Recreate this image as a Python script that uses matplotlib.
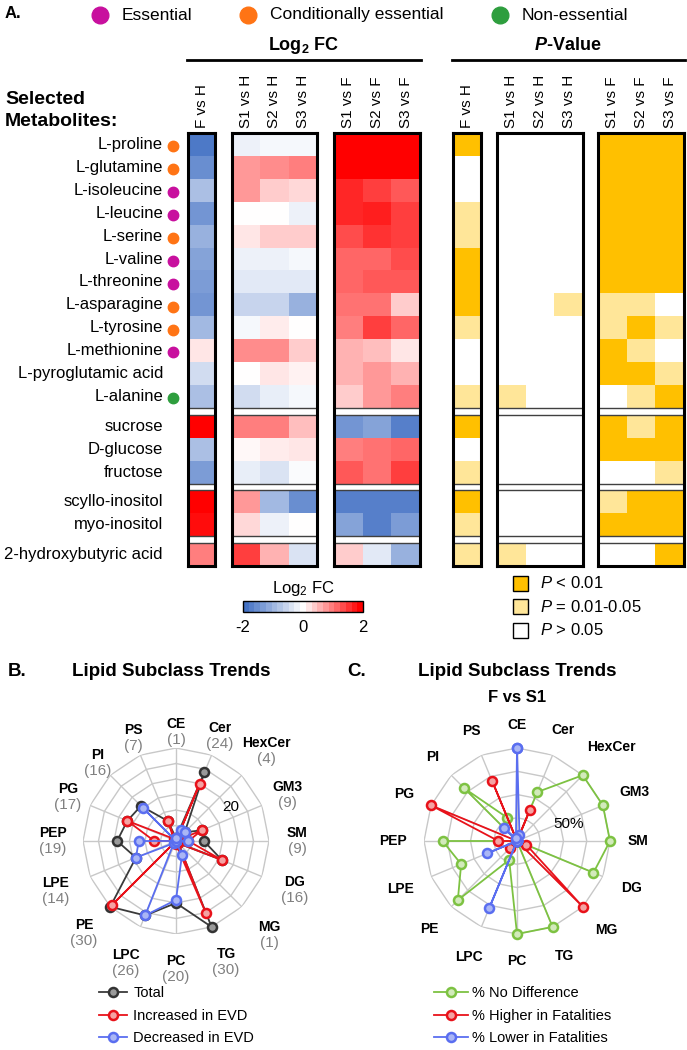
import numpy as np
import matplotlib
matplotlib.use("Agg")
import matplotlib.pyplot as plt
from matplotlib.colors import LinearSegmentedColormap, ListedColormap, Normalize, BoundaryNorm
from matplotlib.lines import Line2D
from matplotlib.patches import Rectangle
from matplotlib.transforms import blended_transform_factory
from matplotlib.cm import ScalarMappable

plt.rcParams['font.family'] = ['Liberation Sans', 'DejaVu Sans']
plt.rcParams['axes.unicode_minus'] = False
plt.rcParams['mathtext.fontset'] = 'custom'
plt.rcParams['mathtext.rm'] = 'Liberation Sans'
plt.rcParams['mathtext.it'] = 'Liberation Sans:italic'
plt.rcParams['mathtext.bf'] = 'Liberation Sans:bold'
try:
    plt.rcParams['mathtext.bfit'] = 'Liberation Sans:italic:bold'
except KeyError:
    pass

# ---------------- data: panel A ----------------
metabolites = ["L-proline", "L-glutamine", "L-isoleucine", "L-leucine", "L-serine",
               "L-valine", "L-threonine", "L-asparagine", "L-tyrosine", "L-methionine",
               "L-pyroglutamic acid", "L-alanine",
               "sucrose", "D-glucose", "fructose",
               "scyllo-inositol", "myo-inositol",
               "2-hydroxybutyric acid"]
group_sizes = [12, 3, 2, 1]
# E = essential, C = conditionally essential, N = non-essential
amino_class = ["C", "C", "E", "E", "C", "E", "E", "C", "C", "E", "", "N",
               "", "", "", "", "", ""]
class_names = ["Essential", "Conditionally essential", "Non-essential"]

cols_fh = ["F vs H"]
cols_sh = ["S1 vs H", "S2 vs H", "S3 vs H"]
cols_sf = ["S1 vs F", "S2 vs F", "S3 vs F"]

fc_f_vs_h = [-1.9, -1.6, -0.9, -1.5, -1.1, -1.3, -1.4, -1.5, -1.0, 0.2, -0.5, -0.9,
             2.0, -0.9, -1.4, 2.0, 1.9, 1.0]
fc_s_vs_h = [[-0.2, -0.1, -0.1],
             [0.8, 0.9, 1.0],
             [0.8, 0.4, 0.3],
             [0.0, 0.0, -0.2],
             [0.2, 0.4, 0.4],
             [-0.2, -0.2, -0.1],
             [-0.3, -0.3, -0.3],
             [-0.6, -0.6, -1.1],
             [-0.1, 0.15, 0.0],
             [0.9, 0.9, 0.4],
             [0.0, 0.2, 0.1],
             [-0.5, -0.25, -0.1],
             [1.0, 1.0, 0.5],
             [0.05, 0.15, 0.2],
             [-0.25, -0.4, -0.05],
             [0.8, -1.0, -1.6],
             [0.3, -0.2, 0.0],
             [1.5, 0.6, -0.4]]
fc_s_vs_f = [[2.0, 2.0, 2.0],
             [2.0, 2.0, 2.0],
             [1.7, 1.5, 1.3],
             [1.7, 1.75, 1.5],
             [1.4, 1.6, 1.5],
             [1.2, 1.2, 1.4],
             [1.2, 1.3, 1.3],
             [1.1, 1.1, 0.4],
             [1.0, 1.5, 1.2],
             [0.6, 0.5, 0.2],
             [0.6, 0.8, 0.6],
             [0.4, 0.8, 1.0],
             [-1.5, -1.3, -1.8],
             [1.0, 1.1, 1.2],
             [1.3, 1.1, 1.5],
             [-1.8, -1.8, -1.8],
             [-1.3, -1.8, -1.4],
             [0.4, -0.3, -1.1]]
# P-value class: 0 = P > 0.05, 1 = P 0.01-0.05, 2 = P < 0.01
p_f_vs_h = [2, 0, 0, 1, 1, 2, 2, 2, 1, 0, 0, 1, 2, 0, 1, 2, 1, 1]
p_s_vs_h = [[0, 0, 0]] * 7 + [[0, 0, 1], [0, 0, 0], [0, 0, 0], [0, 0, 0], [1, 0, 0],
                              [0, 0, 0], [0, 0, 0], [0, 0, 0], [0, 0, 0], [0, 0, 0], [1, 0, 0]]
p_s_vs_f = [[2, 2, 2]] * 7 + [[1, 1, 0], [1, 2, 1], [2, 1, 0], [2, 2, 1], [0, 1, 2],
                              [2, 1, 2], [2, 2, 2], [0, 0, 1], [1, 2, 2], [2, 2, 2], [0, 0, 2]]
p_labels = ["$P$ < 0.01", "$P$ = 0.01-0.05", "$P$ > 0.05"]

# ---------------- data: panels B and C ----------------
lipid_classes = ["CE", "Cer", "HexCer", "GM3", "SM", "DG", "MG", "TG",
                 "PC", "LPC", "PE", "LPE", "PEP", "PG", "PI", "PS"]
lipid_totals = [1, 24, 4, 9, 9, 16, 1, 30, 20, 26, 30, 14, 19, 17, 16, 7]
b_increased = [0, 20, 0, 9, 4, 16, 1, 25, 1, 0, 29, 0, 7, 17, 1, 7]
b_decreased = [1, 4, 4, 0, 4, 0, 0, 5, 19, 26, 1, 14, 12, 0, 15, 0]
c_no_diff = [0, 57, 100, 100, 100, 89, 0, 100, 100, 22, 90, 65, 80, 0, 80, 27]
c_higher = [0, 36, 0, 0, 0, 11, 100, 0, 0, 0, 10, 0, 20, 100, 0, 70]
c_lower = [100, 7, 0, 0, 0, 0, 0, 0, 0, 78, 0, 35, 0, 0, 20, 3]

# label distance from the radar centre (pixels), per spoke
b_label_px = [109, 114, 128, 121, 121, 128, 132, 131, 128, 132, 130, 130, 123, 117, 111, 112]
c_label_px = [116, 120, 133, 127, 121, 124, 126, 125, 120, 126, 124, 126, 124, 122, 119, 119]

# ---------------- figure ----------------
W, H = 687, 1050
fig = plt.figure(figsize=(W / 100, H / 100), dpi=100)


def px_axes(x0, y0, x1, y1, **kw):
    return fig.add_axes([x0 / W, 1 - y1 / H, (x1 - x0) / W, (y1 - y0) / H], **kw)


def fx(x):
    return x / W


def fy(y):
    return 1 - y / H


fc_cmap = LinearSegmentedColormap.from_list("fc", ["#4472c4", "#ffffff", "#ff0000"])
fc_norm = Normalize(-2, 2)
p_cmap = ListedColormap(["#ffffff", "#ffe699", "#ffc000"])
p_norm = BoundaryNorm([-0.5, 0.5, 1.5, 2.5], 3)
class_colors = {"E": "#c8109e", "C": "#ff7415", "N": "#2e9e3e"}

# row layout with gaps between metabolite groups
gap = 0.3
heights, is_gap = [], []
for gi, g in enumerate(group_sizes):
    heights += [1] * g
    is_gap += [False] * g
    if gi < len(group_sizes) - 1:
        heights.append(gap)
        is_gap.append(True)
y_edges = np.concatenate([[0], np.cumsum(heights)])
data_rows = [i for i, gp in enumerate(is_gap) if not gp]
row_centers = [(y_edges[i] + y_edges[i + 1]) / 2 for i in data_rows]

top, bottom = 133, 566


def heat_block(x0, x1, values, cols, cmap, norm):
    ax = px_axes(x0, top, x1, bottom)
    arr = np.array(values, float)
    if arr.ndim == 1:
        arr = arr.reshape(-1, 1)
    full = np.full((len(heights), arr.shape[1]), np.nan)
    full[data_rows] = arr
    ax.pcolormesh(np.arange(arr.shape[1] + 1), y_edges, np.ma.masked_invalid(full),
                  cmap=cmap, norm=norm, shading='flat', antialiased=False)
    ax.set_xlim(0, arr.shape[1])
    ax.set_ylim(y_edges[-1], 0)
    for i, gp in enumerate(is_gap):
        if gp:
            ax.axhline(y_edges[i], color='#404040', lw=1)
            ax.axhline(y_edges[i + 1], color='#404040', lw=1)
    ax.set_xticks([])
    ax.set_yticks([])
    for s in ax.spines.values():
        s.set_linewidth(2.2)
    for j, c in enumerate(cols):
        ax.text(j + 0.5, 1.012, c, transform=ax.get_xaxis_transform(), rotation=90,
                ha='center', va='bottom', fontsize=11)
    return ax


ax_fh = heat_block(188, 215, fc_f_vs_h, cols_fh, fc_cmap, fc_norm)
heat_block(232, 317, fc_s_vs_h, cols_sh, fc_cmap, fc_norm)
heat_block(334, 420, fc_s_vs_f, cols_sf, fc_cmap, fc_norm)
heat_block(453, 481, p_f_vs_h, cols_fh, p_cmap, p_norm)
heat_block(497, 583, p_s_vs_h, cols_sh, p_cmap, p_norm)
heat_block(598, 684, p_s_vs_f, cols_sf, p_cmap, p_norm)

# metabolite names and class dots
tr = blended_transform_factory(fig.transFigure, ax_fh.transData)
for name, cls, yc in zip(metabolites, amino_class, row_centers):
    ax_fh.text(fx(163), yc, name, transform=tr, ha='right', va='center', fontsize=12)
    if cls:
        ax_fh.plot([fx(173)], [yc + 0.08], 'o', transform=tr, clip_on=False,
                   ms=7.5, color=class_colors[cls])

# headers
fig.text(fx(5), fy(14), "A.", fontsize=12, fontweight='bold', va='center')
for cx, cls in zip([100, 248, 500], ["E", "C", "N"]):
    fig.add_artist(Line2D([fx(cx)], [fy(15)], marker='o', ms=12, color=class_colors[cls],
                          transform=fig.transFigure))
for x, name in zip([122, 270, 522], class_names):
    fig.text(fx(x), fy(15), name, fontsize=12.5, va='center')

fig.text(fx(5), fy(100), "Selected", fontsize=14, fontweight='bold', va='center')
fig.text(fx(5), fy(121), "Metabolites:", fontsize=14, fontweight='bold', va='center')

fig.text(fx(304), fy(45), r"Log$_\mathbf{2}$ FC", fontsize=13, fontweight='bold',
         ha='center', va='center')
fig.text(fx(568), fy(45), r"$\mathbfit{P}$-Value", fontsize=13, fontweight='bold',
         ha='center', va='center')
fig.add_artist(Line2D([fx(187), fx(421)], [fy(60)] * 2, color='black', lw=2,
                      transform=fig.transFigure))
fig.add_artist(Line2D([fx(452), fx(685)], [fy(60)] * 2, color='black', lw=2,
                      transform=fig.transFigure))

# colorbar
cax = px_axes(243, 601, 363, 612)
sm = ScalarMappable(norm=fc_norm, cmap=ListedColormap(fc_cmap(np.linspace(0, 1, 21))))
cb = fig.colorbar(sm, cax=cax, orientation='horizontal', ticks=[-2, 0, 2])
cb.ax.tick_params(length=0, labelsize=12, pad=6)
cb.outline.set_linewidth(1)
fig.text(fx(303), fy(588), r"Log$_2$ FC", fontsize=12, ha='center', va='center')

# p-value legend
for k, (lab, col) in enumerate(zip(p_labels, ["#ffc000", "#ffe699", "#ffffff"])):
    yc = 583 + k * 23.5
    fig.add_artist(Rectangle((fx(513), fy(yc + 7.5)), 15 / W, 15 / H, facecolor=col,
                             edgecolor='black', lw=1, transform=fig.transFigure))
    fig.text(fx(540), fy(yc), lab, fontsize=12, va='center')

# ---------------- radar charts ----------------
angles = np.arange(len(lipid_classes)) * 2 * np.pi / len(lipid_classes)
closed = np.append(angles, angles[0])

styles = {
    "black": ("#3a3a3a", "#333333", "#9a9a9a"),
    "red": ("#e8121a", "#e8121a", "#f4a3a3"),
    "blue": ("#5a6ef0", "#5a6ef0", "#aab6f5"),
    "green": ("#7dc242", "#7dc242", "#d2eabb"),
}


def radar(cx, cy, R, rmax, rings, series, label_px, counts=None):
    ax = px_axes(cx - R, cy - R, cx + R, cy + R, projection='polar')
    ax.set_theta_zero_location('N')
    ax.set_theta_direction(-1)
    ax.set_ylim(0, rmax)
    ax.grid(False)
    ax.set_xticks([])
    ax.set_yticks([])
    ax.spines['polar'].set_visible(False)
    ax.patch.set_visible(False)
    for r in rings:
        ax.plot(closed, [r] * len(closed), color='#c8c8c8', lw=1, zorder=1)
    for a in angles:
        ax.plot([a, a], [0, rmax], color='#c8c8c8', lw=1, zorder=1)
    for vals, key, name in series:
        lc, ec, fc = styles[key]
        ax.plot(closed, list(vals) + [vals[0]], color=lc, lw=1.3, marker='o', ms=6.5,
                mfc=fc, mec=ec, mew=1.8, clip_on=False, zorder=3, label=name)
    for i, (a, lab) in enumerate(zip(angles, lipid_classes)):
        r = label_px[i] / R * rmax
        if counts is not None:
            ax.annotate(lab, xy=(a, r), xytext=(0, 5.5), textcoords='offset points',
                        ha='center', va='center', fontsize=10, fontweight='bold',
                        annotation_clip=False)
            ax.annotate(f"({counts[i]})", xy=(a, r), xytext=(0, -6), textcoords='offset points',
                        ha='center', va='center', fontsize=11, color='#808080',
                        annotation_clip=False)
        else:
            ax.text(a, r, lab, ha='center', va='center', fontsize=10, fontweight='bold')
    return ax


fig.text(fx(8), fy(672), "B.", fontsize=13.5, fontweight='bold', va='center')
fig.text(fx(171), fy(672), "Lipid Subclass Trends", fontsize=13.5, fontweight='bold',
         ha='center', va='center')
axb = radar(176, 841, 93, 30, [5, 10, 15, 20, 25, 30],
            [(lipid_totals, "black", "Total"),
             (b_increased, "red", "Increased in EVD"),
             (b_decreased, "blue", "Decreased in EVD")],
            b_label_px, counts=lipid_totals)
axb.text(np.deg2rad(58), 21, "20", fontsize=11, ha='center', va='center')
axb.legend(loc='upper left', bbox_to_anchor=(fx(99), fy(986)), bbox_transform=fig.transFigure,
           frameon=False, fontsize=10.5, handlelength=1.9, handletextpad=0.45,
           labelspacing=0.6, borderpad=0, borderaxespad=0)

fig.text(fx(347), fy(672), "C.", fontsize=13.5, fontweight='bold', va='center')
fig.text(fx(517), fy(672), "Lipid Subclass Trends", fontsize=13.5, fontweight='bold',
         ha='center', va='center')
fig.text(fx(517), fy(698), "F vs S1", fontsize=12, fontweight='bold', ha='center', va='center')
axc = radar(517, 841, 93, 100, [25, 50, 75, 100],
            [(c_no_diff, "green", "% No Difference"),
             (c_higher, "red", "% Higher in Fatalities"),
             (c_lower, "blue", "% Lower in Fatalities")],
            c_label_px)
axc.text(np.deg2rad(72), 58, "50%", fontsize=11, ha='center', va='center')
axc.legend(loc='upper left', bbox_to_anchor=(fx(434), fy(986)), bbox_transform=fig.transFigure,
           frameon=False, fontsize=10.5, handlelength=2.3, handletextpad=0.3,
           labelspacing=0.6, borderpad=0, borderaxespad=0)

fig.savefig("out.png", dpi=100)
